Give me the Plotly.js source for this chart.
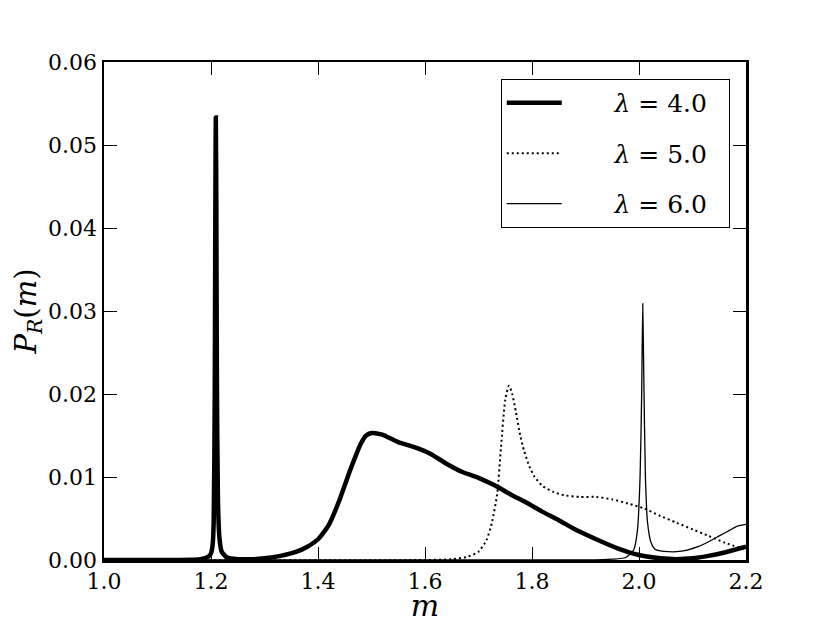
<!DOCTYPE html>
<html>
<head>
<meta charset="utf-8">
<script src="https://cdn.plot.ly/plotly-3.0.1.min.js"></script>
<style>body{margin:0;background:#fff}</style>
</head>
<body>
<div id="chart" style="width:830px;height:623px"></div>
<script>
const pad = '\u00a0'.repeat(6);
const labels = [pad + '<i>λ</i> = 4.0\u00a0\u00a0', pad + '<i>λ</i> = 5.0\u00a0\u00a0', pad + '<i>λ</i> = 6.0\u00a0\u00a0'];

const m4 = [1.00, 1.10, 1.18, 1.195, 1.200, 1.203, 1.205, 1.207, 1.208, 1.209, 1.210, 1.211, 1.213, 1.216, 1.220, 1.23, 1.25, 1.28, 1.30, 1.33, 1.36, 1.38, 1.40, 1.42, 1.44, 1.46, 1.48, 1.49, 1.50, 1.52, 1.55, 1.58, 1.61, 1.64, 1.67, 1.70, 1.73, 1.76, 1.79, 1.82, 1.85, 1.88, 1.92, 1.96, 2.00, 2.04, 2.07, 2.10, 2.13, 2.16, 2.20];
const p4 = [0, 0, 0.0001, 0.0004, 0.0008, 0.0018, 0.0045, 0.020, 0.040, 0.0533, 0.042, 0.022, 0.007, 0.0025, 0.001, 0.0003, 0.0001, 0.0001, 0.0002, 0.0005, 0.0010, 0.0016, 0.0025, 0.0042, 0.0072, 0.0108, 0.0140, 0.0150, 0.0153, 0.0151, 0.0142, 0.0136, 0.0128, 0.0116, 0.0106, 0.0099, 0.0090, 0.0079, 0.0069, 0.0058, 0.0048, 0.0037, 0.0025, 0.0014, 0.0006, 0.0002, 0.0001, 0.0002, 0.0005, 0.0009, 0.0016];

const m5 = [1.00, 1.60, 1.65, 1.68, 1.70, 1.715, 1.725, 1.735, 1.742, 1.750, 1.757, 1.763, 1.770, 1.778, 1.785, 1.795, 1.805, 1.82, 1.84, 1.86, 1.89, 1.92, 1.95, 1.98, 2.01, 2.04, 2.07, 2.10, 2.13, 2.16, 2.20];
const p5 = [0, 0, 0.0001, 0.0004, 0.0010, 0.0024, 0.0045, 0.0080, 0.0135, 0.0193, 0.0210, 0.0200, 0.0178, 0.0150, 0.0132, 0.0113, 0.0100, 0.0089, 0.0082, 0.0078, 0.0076, 0.0076, 0.0073, 0.0068, 0.0062, 0.0053, 0.0045, 0.0037, 0.0029, 0.0021, 0.0012];

const m6 = [1.00, 1.90, 1.95, 1.975, 1.99, 1.997, 2.002, 2.005, 2.007, 2.009, 2.012, 2.016, 2.022, 2.03, 2.04, 2.055, 2.07, 2.09, 2.11, 2.13, 2.15, 2.17, 2.185, 2.20];
const p6 = [0, 0, 0.0001, 0.0003, 0.0012, 0.0035, 0.010, 0.020, 0.0309, 0.022, 0.010, 0.0045, 0.0022, 0.0013, 0.0011, 0.0010, 0.0010, 0.0012, 0.0016, 0.0022, 0.0029, 0.0036, 0.0041, 0.0043];

const xTicks = [1.0, 1.2, 1.4, 1.6, 1.8, 2.0, 2.2];
const yTicks = [0.00, 0.01, 0.02, 0.03, 0.04, 0.05, 0.06];

const serif = 'DejaVu Serif';

const traces = [
  {x: m4, y: p4, name: labels[0], legendgroup: 'a', mode: 'lines',
   line: {color: 'black', width: 4.5, shape: 'spline', smoothing: 0.6}},
  {x: m5, y: p5, name: labels[1], legendgroup: 'b', mode: 'lines',
   line: {color: 'black', width: 2, dash: '2px,3px', shape: 'spline', smoothing: 0.6}},
  {x: m6, y: p6, name: labels[2], legendgroup: 'c', mode: 'lines',
   line: {color: 'black', width: 1.3, shape: 'spline', smoothing: 0.6}}
];

const axisBase = {
  showline: true, linecolor: 'black', linewidth: 2.5, mirror: 'ticks',
  ticks: 'inside', ticklen: 13, tickwidth: 1, tickcolor: 'black',
  showgrid: false, zeroline: false,
  tickfont: {family: serif, size: 22, color: 'black'}
};

const layout = {
  width: 830, height: 623,
  margin: {l: 104, r: 84, t: 62, b: 63},
  paper_bgcolor: 'white', plot_bgcolor: 'white',
  font: {family: serif, color: 'black'},
  showlegend: true,
  legend: {
    x: 0.618, y: 0.966, xanchor: 'left', yanchor: 'top',
    bordercolor: 'black', borderwidth: 1, bgcolor: 'white',
    font: {family: serif, size: 25, color: 'black'},
    tracegroupgap: 15, itemwidth: 55
  },
  xaxis: Object.assign({}, axisBase, {
    range: [1.0, 2.2], tickvals: xTicks, tickformat: '.1f',
    title: {text: '<i>m</i>', font: {family: serif, size: 30}, standoff: 0}
  }),
  yaxis: Object.assign({}, axisBase, {
    range: [0, 0.06], tickvals: yTicks, tickformat: '.2f',
    title: {text: '<i>P</i><sub><i>R</i></sub>(<i>m</i>)', font: {family: serif, size: 29}, standoff: 3}
  })
};

Plotly.newPlot('chart', traces, layout, {displayModeBar: false, staticPlot: true});
</script>
</body>
</html>
